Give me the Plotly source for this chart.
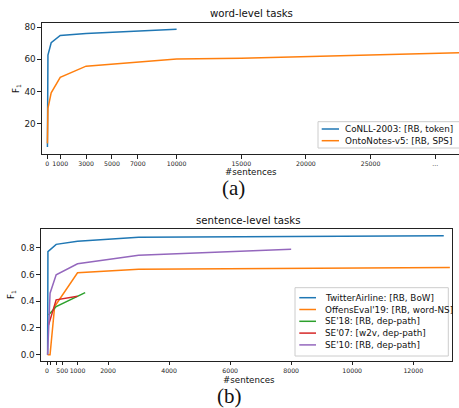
import plotly.graph_objects as go

W, H = 459, 408


def px(x):
    return x / W


def py(y):
    return 1 - y / H


# ---------------- word-level tasks (a) ----------------
conll_x = [10, 25, 50, 300, 1000, 3000, 10000]
conll_y = [5.5, 48.0, 62.6, 70.2, 74.8, 76.0, 78.6]
onto_x = [10, 50, 300, 1000, 3000, 10000, 15000, 32000]
onto_y = [7.8, 29.5, 39.2, 48.8, 55.7, 60.2, 60.6, 64.0]

word_names = ["CoNLL-2003: [RB, token]", "OntoNotes-v5: [RB, SPS]"]
word_xticks = [0, 1000, 3000, 5000, 7000, 10000, 15000, 20000, 25000, 30000]
word_xticktext = ["0", "1000", "3000", "5000", "7000", "10000", "15000", "20000", "25000", "..."]
word_yticks = [20, 40, 60, 80]

# ---------------- sentence-level tasks (b) ----------------
twitter_x = [20, 30, 300, 1000, 3000, 13000]
twitter_y = [0.0, 0.77, 0.825, 0.848, 0.878, 0.89]
offens_x = [20, 100, 250, 1000, 3000, 13200]
offens_y = [0.0, 0.0, 0.36, 0.612, 0.638, 0.652]
se18_x = [50, 300, 1250]
se18_y = [0.297, 0.36, 0.464]
se07_x = [50, 300, 1000]
se07_y = [0.222, 0.41, 0.437]
se10_x = [20, 100, 300, 1000, 3000, 8000]
se10_y = [0.0, 0.46, 0.597, 0.68, 0.743, 0.788]

sent_names = ["TwitterAirline: [RB, BoW]", "OffensEval'19: [RB, word-NS]",
              "SE'18: [RB, dep-path]", "SE'07: [w2v, dep-path]", "SE'10: [RB, dep-path]"]
sent_xticks = [0, 500, 1000, 2000, 4000, 6000, 8000, 10000, 12000]
sent_xticktext = ["0", "500", "1000", "2000", "4000", "6000", "8000", "10000", "12000"]
sent_xminor = [100, 300]
sent_yticks = [0.0, 0.2, 0.4, 0.6, 0.8]

colors = ["#1f77b4", "#ff7f0e", "#2ca02c", "#d62728", "#9467bd"]
FONT = "DejaVu Sans"
SPINE = "#222222"

fig = go.Figure()
for xs, ys, name, c in [(conll_x, conll_y, word_names[0], colors[0]),
                        (onto_x, onto_y, word_names[1], colors[1])]:
    fig.add_trace(go.Scatter(x=xs, y=ys, name=name, mode="lines",
                             line=dict(color=c, width=1.5), xaxis="x", yaxis="y",
                             showlegend=False))

sent_series = [(twitter_x, twitter_y), (offens_x, offens_y), (se18_x, se18_y),
               (se07_x, se07_y), (se10_x, se10_y)]
for (xs, ys), name, c in zip(sent_series, sent_names, colors):
    fig.add_trace(go.Scatter(x=xs, y=ys, name=name, mode="lines",
                             line=dict(color=c, width=1.5), xaxis="x2", yaxis="y2",
                             showlegend=False))

axis_common = dict(showgrid=False, zeroline=False, showline=True, linecolor=SPINE,
                   linewidth=1.1, ticks="outside", ticklen=3.5, tickwidth=1,
                   tickcolor=SPINE)

fig.update_layout(
    width=W, height=H, autosize=False,
    margin=dict(l=0, r=0, t=0, b=0),
    paper_bgcolor="white", plot_bgcolor="white",
    font=dict(family=FONT, color="#222222"),
    showlegend=False,
    xaxis=dict(domain=[px(42), 1], range=[-410, 31840], anchor="y",
               tickmode="array", tickvals=word_xticks, ticktext=word_xticktext,
               tickangle=0, tickfont=dict(size=6.2), mirror=True, **axis_common),
    yaxis=dict(domain=[py(154), py(23)], range=[1.21, 82.48], anchor="x",
               tickvals=word_yticks, tickfont=dict(size=8.8), mirror=False,
               **axis_common),
    xaxis2=dict(domain=[px(41), px(452)], range=[-197, 13270], anchor="y2",
                tickmode="array", tickvals=sent_xticks, ticktext=sent_xticktext,
                tickangle=0, tickfont=dict(size=6.2), mirror=True,
                minor=dict(tickmode="array", tickvals=sent_xminor, ticks="outside",
                           ticklen=3.5, tickwidth=1, tickcolor=SPINE, showgrid=False),
                **axis_common),
    yaxis2=dict(domain=[py(360.7), py(229.3)], range=[-0.045, 0.9376], anchor="x2",
                tickvals=sent_yticks, tickformat=".1f", tickfont=dict(size=8.8),
                mirror=True, **axis_common),
)

ann = []
shapes = []


def text(x, y, s, size, family=FONT, xanchor="center", angle=0):
    ann.append(dict(x=px(x), y=py(y), xref="paper", yref="paper", text=s,
                    showarrow=False, xanchor=xanchor, yanchor="middle",
                    textangle=angle, font=dict(size=size, family=family, color="#111111")))


# titles and axis labels
text(251, 14, "word-level tasks", 10.2)
text(251, 172, "#sentences", 8.7)
text(233, 188, "(a)", 21, family="Liberation Serif")
text(16, 89, "F<sub>1</sub>", 8.7, angle=-90)

text(249, 221, "sentence-level tasks", 10.2)
text(249, 380, "#sentences", 8.7)
text(230, 396, "(b)", 21, family="Liberation Serif")
text(11, 295, "F<sub>1</sub>", 8.7, angle=-90)


def legend(box, line_x0, line_x1, text_x, row0, dy, names, cols):
    x0, y0, x1, y1 = box
    shapes.append(dict(type="rect", xref="paper", yref="paper",
                       x0=px(x0), x1=px(x1), y0=py(y1), y1=py(y0),
                       line=dict(color="#cccccc", width=1), fillcolor="rgba(255,255,255,0.8)",
                       layer="above"))
    for i, (nm, c) in enumerate(zip(names, cols)):
        yy = row0 + i * dy
        shapes.append(dict(type="line", xref="paper", yref="paper",
                           x0=px(line_x0), x1=px(line_x1), y0=py(yy), y1=py(yy),
                           line=dict(color=c, width=1.5), layer="above"))
        text(text_x, yy, nm, 8.8, xanchor="left")


legend((318, 121.7, 470, 148), 321.7, 339, 342.7, 129, 11.7, word_names, colors[:2])
legend((295, 287.7, 448.3, 356), 299.3, 316, 322.7, 297.7, 11.8, sent_names, colors)

fig.update_layout(annotations=ann, shapes=shapes)
fig.write_html("out.html", config={"displayModeBar": False},
               post_script="document.body.style.margin='0px';")
